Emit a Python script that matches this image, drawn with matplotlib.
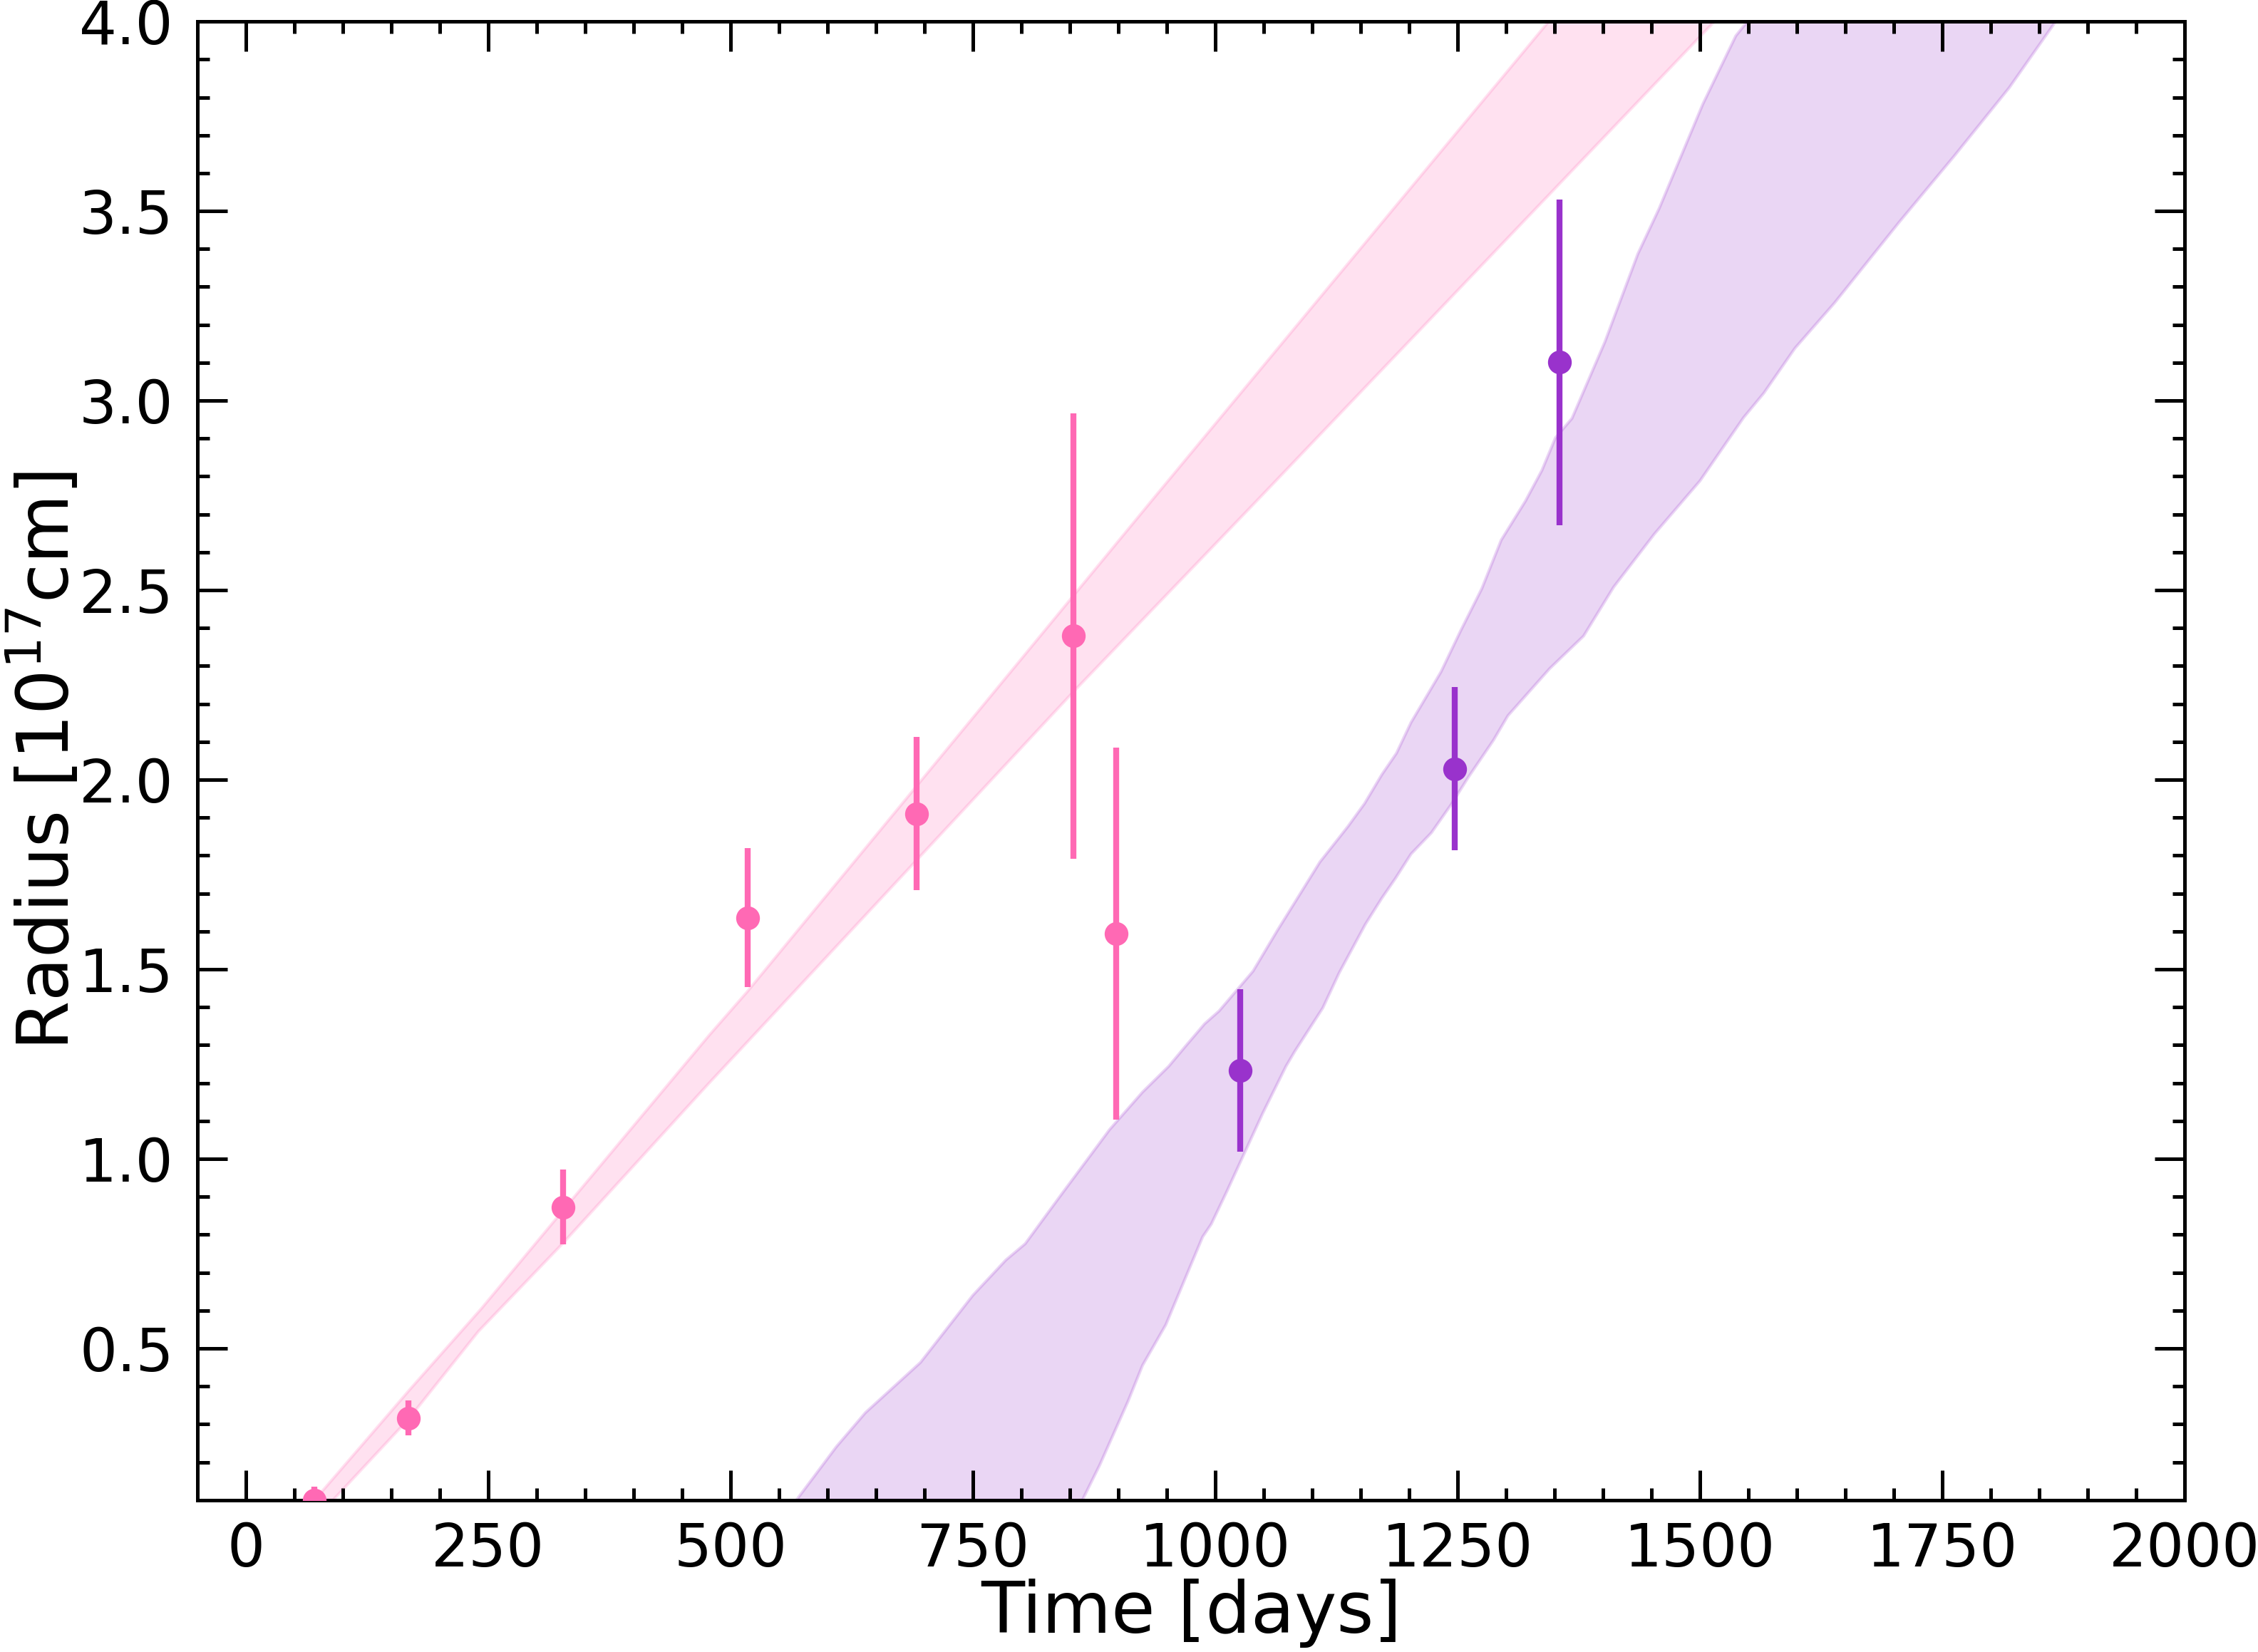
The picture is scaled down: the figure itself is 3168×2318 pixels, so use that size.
import numpy as np
import matplotlib
matplotlib.use("Agg")
import matplotlib.pyplot as plt
from matplotlib.ticker import MultipleLocator

# measured radii (pink sample)
t_pink = [71, 168, 327, 518, 692, 854, 898]
r_pink = [0.10, 0.316, 0.873, 1.636, 1.910, 2.379, 1.594]
e_pink = [0.035, 0.046, 0.098, 0.183, 0.202, 0.588, 0.490]

# measured radii (purple sample)
t_purp = [1026, 1247, 1355]
r_purp = [1.233, 2.029, 3.101]
e_purp = [0.214, 0.215, 0.430]

# pink band edges
pink_hi_t = [71, 169, 243, 338, 478, 517, 937, 1344, 1400]
pink_hi_r = [0.10, 0.391, 0.605, 0.897, 1.326, 1.44, 2.744, 4.0, 4.17]
pink_lo_t = [90, 168, 240, 327, 478, 853, 1046, 1515, 1570]
pink_lo_r = [0.10, 0.314, 0.545, 0.777, 1.20, 2.23, 2.744, 4.0, 4.15]

# purple band edges
purp_hi_t = [568, 609, 639, 696, 750, 784, 804, 841, 891, 925, 952, 969, 989,
             1004, 1039, 1064, 1108, 1137, 1154, 1172, 1187, 1202, 1218, 1233,
             1253, 1275, 1295, 1320, 1337, 1351, 1368, 1402, 1436, 1458, 1503,
             1537, 1549, 1570]
purp_hi_r = [0.10, 0.24, 0.33, 0.463, 0.64, 0.733, 0.776, 0.905, 1.077, 1.176,
             1.244, 1.296, 1.356, 1.39, 1.495, 1.602, 1.783, 1.877, 1.937, 2.014,
             2.070, 2.151, 2.220, 2.285, 2.392, 2.504, 2.632, 2.735, 2.816, 2.902,
             2.953, 3.155, 3.387, 3.507, 3.782, 3.962, 4.0, 4.06]
purp_lo_t = [863, 881, 910, 925, 949, 987, 996, 1012, 1049, 1073, 1082, 1111,
             1128, 1155, 1172, 1186, 1202, 1223, 1243, 1261, 1287, 1302, 1345,
             1380, 1411, 1453, 1500, 1545, 1566, 1598, 1639, 1706, 1762, 1819,
             1867, 1890]
purp_lo_r = [0.10, 0.193, 0.36, 0.455, 0.562, 0.794, 0.828, 0.914, 1.12, 1.244,
             1.283, 1.398, 1.491, 1.619, 1.688, 1.740, 1.804, 1.860, 1.933, 2.006,
             2.104, 2.169, 2.293, 2.379, 2.508, 2.648, 2.788, 2.955, 3.02, 3.138,
             3.258, 3.472, 3.644, 3.825, 4.0, 4.08]

pink = "hotpink"
purple = "darkorchid"

fig = plt.figure(figsize=(3168 / 300, 2318 / 300), dpi=300)
ax = fig.add_axes([0.0874, 0.092, 0.8801, 0.895])

def band(ax, hi_t, hi_r, lo_t, lo_r, color):
    xs = np.concatenate([hi_t, lo_t[::-1]])
    ys = np.concatenate([hi_r, lo_r[::-1]])
    ax.fill(xs, ys, facecolor=color, edgecolor=color, alpha=0.2, lw=1.0, zorder=1)

band(ax, pink_hi_t, pink_hi_r, pink_lo_t, pink_lo_r, pink)
band(ax, purp_hi_t, purp_hi_r, purp_lo_t, purp_lo_r, purple)

ax.errorbar(t_pink, r_pink, yerr=e_pink, fmt="o", color=pink, ms=7,
            elinewidth=2, capsize=0, zorder=3)
ax.errorbar(t_purp, r_purp, yerr=e_purp, fmt="o", color=purple, ms=7,
            elinewidth=2, capsize=0, zorder=3)

ax.set_xlim(-50, 2000)
ax.set_ylim(0.1, 4.0)
ax.xaxis.set_major_locator(MultipleLocator(250))
ax.xaxis.set_minor_locator(MultipleLocator(50))
ax.yaxis.set_major_locator(MultipleLocator(0.5))
ax.yaxis.set_minor_locator(MultipleLocator(0.1))

ax.tick_params(which="both", direction="in", top=True, right=True, width=1.2)
ax.tick_params(which="major", length=10, labelsize=20)
ax.tick_params(axis="x", which="major", pad=7)
ax.tick_params(axis="y", which="major", pad=8)
ax.tick_params(which="minor", length=4)
for s in ax.spines.values():
    s.set_linewidth(1.2)

ax.set_xlabel("Time [days]", fontsize=24, labelpad=0)
ax.set_ylabel("Radius [10$^{17}$cm]", fontsize=24)
ax.yaxis.set_label_coords(-0.057, 0.5)

fig.savefig("out.png", dpi=300)
